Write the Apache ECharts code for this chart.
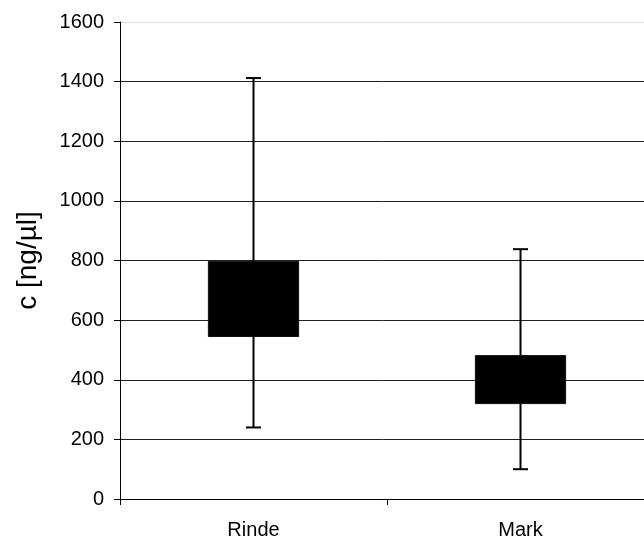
<!DOCTYPE html>
<html>
<head>
<meta charset="utf-8">
<script src="https://cdn.jsdelivr.net/npm/echarts@6/dist/echarts.min.js"></script>
<style>
  html, body { margin: 0; padding: 0; background: #fff; }
  #chart { width: 644px; height: 542px; }
</style>
</head>
<body>
<div id="chart"></div>
<script>
// Concentration ranges per sample part
const categories = ['Rinde', 'Mark'];
const whiskerLow = [240, 100];
const boxLow = [545, 320];
const boxHigh = [797, 481];
const whiskerHigh = [1412, 838];

const yTicks = [0, 200, 400, 600, 800, 1000, 1200, 1400, 1600];

const FONT = 'Liberation Sans, Arial, Helvetica, sans-serif';

const rows = categories.map((c, i) => [i, whiskerLow[i], boxLow[i], boxHigh[i], whiskerHigh[i]]);

// gridline colours: every line dark except the top one
const gridColors = yTicks.map((v, i) => (i === yTicks.length - 1 ? '#dcdcdc' : '#222'));

const chart = echarts.init(document.getElementById('chart'), null, { renderer: 'canvas' });

chart.setOption({
  animation: false,
  backgroundColor: '#fff',
  grid: {
    left: 120,
    top: 22,
    bottom: 43,
    right: -10,
    outerBoundsMode: 'none'
  },
  xAxis: {
    type: 'category',
    data: categories,
    boundaryGap: true,
    axisLine: { lineStyle: { color: '#000', width: 1 } },
    axisTick: { show: true, length: 6, lineStyle: { color: '#000' } },
    axisLabel: { color: '#000', fontSize: 20, fontFamily: FONT, margin: 21 },
    splitLine: { show: false }
  },
  yAxis: {
    type: 'value',
    min: yTicks[0],
    max: yTicks[yTicks.length - 1],
    interval: 200,
    name: 'c [ng/µl]',
    nameLocation: 'middle',
    nameRotate: 90,
    nameGap: 78,
    nameTextStyle: { color: '#000', fontSize: 28, fontFamily: FONT },
    axisLine: { show: true, lineStyle: { color: '#000', width: 1 } },
    axisTick: { show: true, length: 6, lineStyle: { color: '#000' } },
    axisLabel: {
      color: '#000', fontSize: 20, fontFamily: FONT, margin: 16,
      formatter: function (v) { return String(v); }
    },
    splitLine: { show: true, lineStyle: { color: gridColors, width: 1 } }
  },
  series: [{
    type: 'custom',
    data: rows,
    encode: { x: 0, y: [1, 2, 3, 4] },
    renderItem: function (params, api) {
      const x = api.value(0);
      const pLow = api.coord([x, api.value(1)]);
      const pQ1 = api.coord([x, api.value(2)]);
      const pQ3 = api.coord([x, api.value(3)]);
      const pHigh = api.coord([x, api.value(4)]);
      const band = api.size([1, 0])[0];
      const boxW = band * 0.338;
      const capW = 15;
      const cx = pLow[0];
      const lineStyle = { stroke: '#000', lineWidth: 2 };
      return {
        type: 'group',
        children: [
          { type: 'line', shape: { x1: cx, y1: pLow[1], x2: cx, y2: pHigh[1] }, style: lineStyle },
          { type: 'line', shape: { x1: cx - capW / 2, y1: pLow[1], x2: cx + capW / 2, y2: pLow[1] }, style: lineStyle },
          { type: 'line', shape: { x1: cx - capW / 2, y1: pHigh[1], x2: cx + capW / 2, y2: pHigh[1] }, style: lineStyle },
          {
            type: 'rect',
            shape: { x: cx - boxW / 2, y: pQ3[1], width: boxW, height: pQ1[1] - pQ3[1] },
            style: { fill: '#000', stroke: '#111', lineWidth: 1 }
          }
        ]
      };
    }
  }]
});
</script>
</body>
</html>
